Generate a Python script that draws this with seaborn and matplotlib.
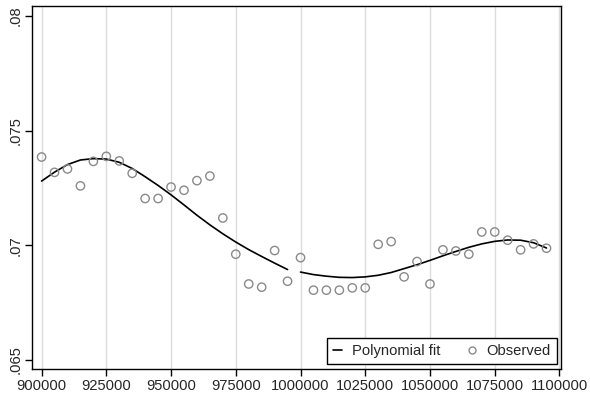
import numpy as np
import pandas as pd
import matplotlib
matplotlib.use("Agg")
import matplotlib.pyplot as plt
import seaborn as sns
from matplotlib.lines import Line2D

# Running variable (bin midpoints) and observed outcome means
bins = list(range(900000, 1100000, 5000))
observed = [
    0.07385, 0.07318, 0.07333, 0.07259, 0.07366, 0.07388, 0.07368, 0.07314,
    0.07204, 0.07204, 0.07254, 0.07240, 0.07282, 0.07302, 0.07119, 0.06961,
    0.06831, 0.06817, 0.06977, 0.06843,
    0.06946, 0.06804, 0.06804, 0.06804, 0.06814, 0.06814, 0.07004, 0.07016,
    0.06862, 0.06929, 0.06831, 0.06980, 0.06975, 0.06961, 0.07058, 0.07058,
    0.07022, 0.06980, 0.07006, 0.06987,
]
# Fitted values of the polynomial, estimated separately below / above the cutoff
fit_below = [
    0.07280, 0.07319, 0.07352, 0.07372, 0.07378, 0.07376, 0.07362, 0.07335,
    0.07299, 0.07261, 0.07220, 0.07176, 0.07131, 0.07089, 0.07050, 0.07014,
    0.06981, 0.06951, 0.06922, 0.06894,
]
fit_above = [
    0.06883, 0.06872, 0.06865, 0.06860, 0.06859, 0.06862, 0.06869, 0.06881,
    0.06898, 0.06915, 0.06934, 0.06954, 0.06973, 0.06991, 0.07006, 0.07017,
    0.07023, 0.07022, 0.07011, 0.06988,
]
cutoff = 1000000
x_ticks = [900000, 925000, 950000, 975000, 1000000, 1025000, 1050000, 1075000, 1100000]
y_ticks = [0.065, 0.07, 0.075, 0.08]
y_labels = [".065", ".07", ".075", ".08"]

df = pd.DataFrame({"x": bins, "y": observed})
fit = pd.DataFrame({
    "x": bins,
    "fit": fit_below + fit_above,
    "side": ["below" if b < cutoff else "above" for b in bins],
})

sns.set_style("white")
plt.rcParams["font.family"] = ["Liberation Sans", "DejaVu Sans"]
plt.rcParams["font.size"] = 10.6

fig = plt.figure(figsize=(5.9, 3.98), dpi=100)
ax = fig.add_axes([32 / 590, 29 / 398, 529 / 590, 363 / 398])

# Polynomial fit, one piece on each side of the cutoff
sns.lineplot(data=fit, x="x", y="fit", units="side", estimator=None,
             color="black", lw=1.2, ax=ax, zorder=3, legend=False)

sns.scatterplot(data=df, x="x", y="y", ax=ax, s=36, marker="o",
                facecolor="none", edgecolor="#8a8a8a", linewidth=1.0,
                zorder=4)

ax.set_xlim(896300, 1100600)
ax.set_ylim(0.0646, 0.08044)
ax.set_xticks(x_ticks)
ax.set_xticklabels([str(t) for t in x_ticks])
ax.set_yticks(y_ticks)
ax.set_yticklabels(y_labels, rotation=90, va="center")
ax.set_xlabel("")
ax.set_ylabel("")

ax.grid(axis="x", color="#dcdcdc", lw=1.0)
ax.grid(axis="y", visible=False)
ax.set_axisbelow(True)
for sp in ax.spines.values():
    sp.set_color("black")
    sp.set_linewidth(1.0)
ax.tick_params(axis="both", direction="out", length=5, width=1.0,
               color="black", labelsize=10.6, pad=2, bottom=True, left=True)

handles = [
    Line2D([], [], color="black", lw=1.2),
    Line2D([], [], ls="none", marker="o", markersize=5,
           markerfacecolor="none", markeredgecolor="#8a8a8a"),
]
leg = ax.legend(handles, ["Polynomial fit", "Observed"], ncol=2,
                loc="lower right", bbox_to_anchor=(0.9915, 0.0145),
                frameon=True, fancybox=False, framealpha=1,
                edgecolor="black", handlelength=0.6, handletextpad=0.7,
                columnspacing=1.8, borderpad=0.4, borderaxespad=0,
                fontsize=10.6)
leg.get_frame().set_linewidth(1.0)

fig.savefig("out.png", dpi=100)
